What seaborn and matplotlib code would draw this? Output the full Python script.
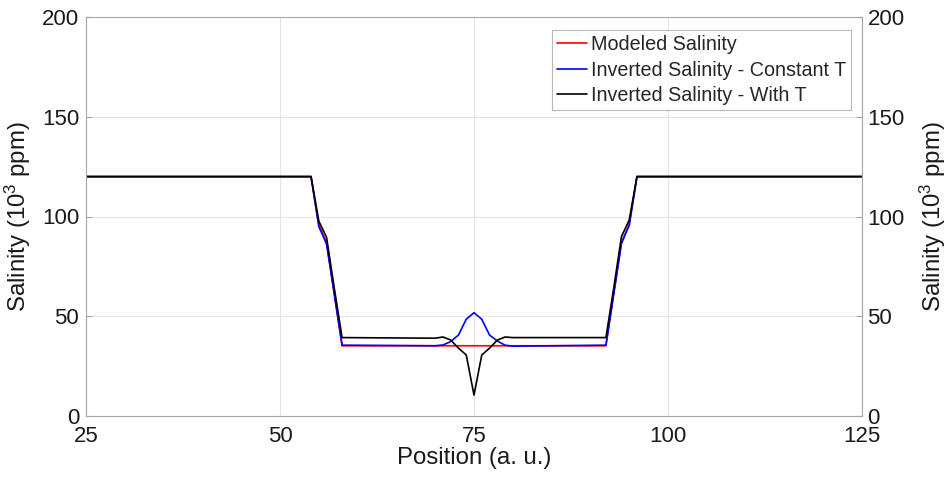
import matplotlib
matplotlib.use("Agg")
import matplotlib.pyplot as plt
import seaborn as sns
import pandas as pd

position = [25, 54, 55, 56, 57, 58, 70, 71, 72, 73, 74, 75, 76, 77, 78, 79, 80, 92, 93, 94, 95, 96, 125]
modeled = [120, 120, 96, 87, 61, 35.2, 35.2, 35.2, 35.2, 35.2, 35.2, 35.2, 35.2, 35.2, 35.2, 35.2, 35.2, 35.2, 61, 87, 96, 120, 120]
const_t = [120, 120, 95, 86.2, 61, 35.5, 35.2, 35.6, 37.3, 40.6, 48.5, 51.8, 48.5, 40.6, 37.6, 35.5, 35.0, 35.5, 61, 86.5, 95.5, 120, 120]
with_t = [120, 120, 97.7, 89.6, 64, 39.3, 39.0, 39.6, 38.1, 34.0, 30.6, 10.5, 30.6, 34.0, 38.0, 39.6, 39.3, 39.3, 64, 89.9, 98.2, 120, 120]

series_names = ["Modeled Salinity", "Inverted Salinity - Constant T", "Inverted Salinity - With T"]
series_colors = ["#ff0000", "#0000ff", "#000000"]
x_ticks = [25, 50, 75, 100, 125]
y_ticks = [0, 50, 100, 150, 200]
y_label = "Salinity (10$^3$ ppm)"
x_label = "Position (a. u.)"

frames = []
for name, vals in zip(series_names, [modeled, const_t, with_t]):
    frames.append(pd.DataFrame({"Position": position, "Salinity": vals, "Series": name}))
df = pd.concat(frames, ignore_index=True)

sns.set_style("white")
plt.rcParams["font.family"] = ["Liberation Sans", "DejaVu Sans"]
plt.rcParams["mathtext.fontset"] = "custom"
plt.rcParams["mathtext.rm"] = "Liberation Sans"
plt.rcParams["mathtext.it"] = "Liberation Sans"
plt.rcParams["mathtext.default"] = "regular"

fig = plt.figure(figsize=(9.49, 4.8), dpi=100)
ax = fig.add_axes([86 / 949, 1 - 416 / 480, (862 - 86) / 949, (416 - 17) / 480])

sns.lineplot(data=df, x="Position", y="Salinity", hue="Series", hue_order=series_names,
             palette=dict(zip(series_names, series_colors)), linewidth=1.2, ax=ax,
             legend=False, sort=False, estimator=None)

ax.set_xlim(25, 125)
ax.set_ylim(0, 200)
ax.set_xticks(x_ticks)
ax.set_yticks(y_ticks)
ax.grid(True, color="#e6e6e6", linewidth=0.8)
ax.set_axisbelow(True)

spine_color = "#a6a6a6"
text_color = "#1a1a1a"
for s in ax.spines.values():
    s.set_color(spine_color)
    s.set_linewidth(0.8)
ax.tick_params(axis="x", direction="in", length=4, color=spine_color, labelsize=16, labelcolor=text_color, pad=7.5)
ax.tick_params(axis="y", direction="in", length=4, color=spine_color, labelsize=16, labelcolor=text_color, pad=5)
ax.set_xlabel(x_label, fontsize=17.3, color=text_color, labelpad=0)
ax.set_ylabel(y_label, fontsize=17.3, color=text_color, labelpad=6)

ax2 = ax.twinx()
ax2.set_ylim(0, 200)
ax2.set_yticks(y_ticks)
for s in ax2.spines.values():
    s.set_visible(False)
ax2.tick_params(direction="in", length=4, color=spine_color, labelsize=16, labelcolor=text_color, pad=4)
ax2.set_ylabel(y_label, fontsize=17.3, color=text_color, labelpad=9)

handles = ax.lines[:3]
leg = ax.legend(handles, series_names, loc="upper right", bbox_to_anchor=(0.986, 0.967),
                borderaxespad=0, fontsize=14.2, frameon=True, fancybox=False, handlelength=1.5,
                handletextpad=0.2, borderpad=0.25, labelspacing=0.33)
leg.get_frame().set_edgecolor("#a6a6a6")
leg.get_frame().set_linewidth(0.8)

fig.savefig("out.png", dpi=100)
